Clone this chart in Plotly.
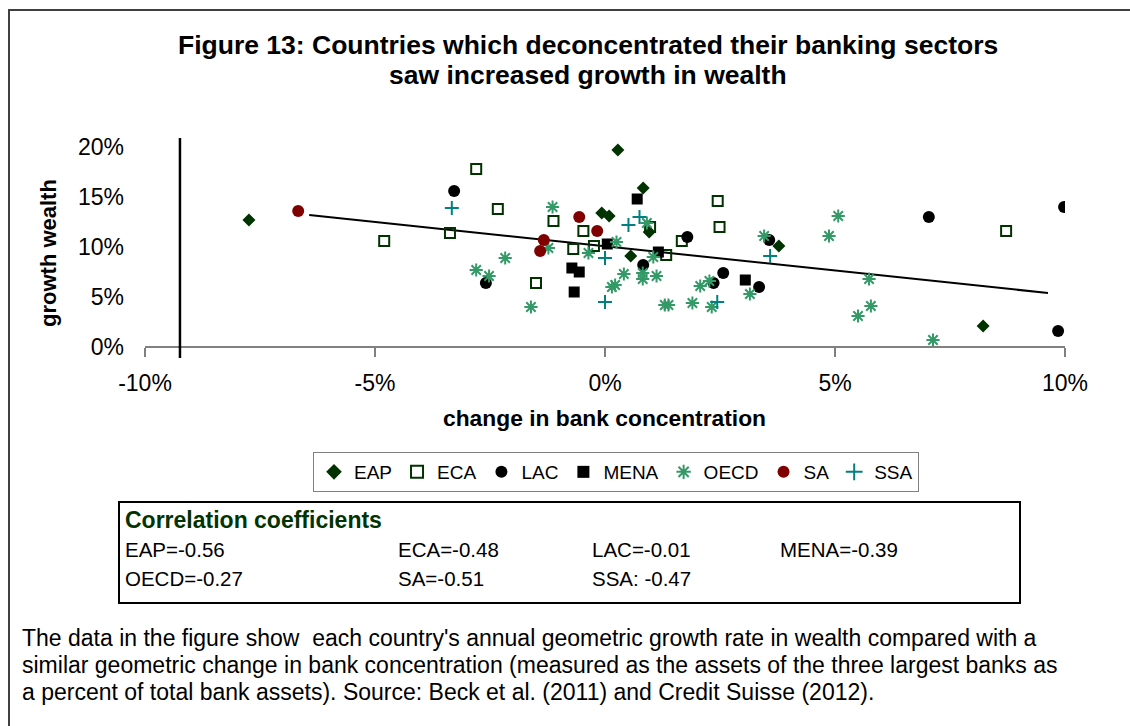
import plotly.graph_objects as go

# ---------------- data (percent units) ----------------
eap_x = [-7.74, 0.28, 0.83, -0.07, 0.09, 0.56, 0.96, 3.78, 8.22]
eap_y = [12.7, 19.7, 15.9, 13.4, 13.1, 9.1, 11.5, 10.1, 2.1]

eca_x = [-4.80, -2.80, -2.33, -3.37, -1.12, -0.47, -0.69, -0.24, -1.50, 0.98, 1.67, 1.33, 2.45, 2.49, 8.72]
eca_y = [10.6, 17.8, 13.8, 11.4, 12.6, 11.6, 9.8, 10.1, 6.4, 12.0, 10.6, 9.2, 14.6, 12.0, 11.6]

lac_x = [-3.28, -2.59, 1.79, 0.83, 2.57, 2.36, 3.35, 3.57, 7.04, 9.98, 9.85]
lac_y = [15.6, 6.4, 11.0, 8.2, 7.4, 6.4, 6.0, 10.7, 13.0, 14.0, 1.6]

mena_x = [-0.72, -0.56, -0.67, 0.05, 0.70, 1.16, 3.05]
mena_y = [7.9, 7.5, 5.5, 10.3, 14.8, 9.5, 6.7]

oecd_x = [-2.80, -2.52, -2.17, -1.61, -1.14, -1.23, -0.36, 0.25, 0.41, 0.15, 0.22, 0.91, 1.05, 0.82, 0.82,
          1.12, 1.30, 1.38, 1.90, 2.07, 2.27, 2.32, 3.15, 3.46, 4.87, 5.07, 5.74, 5.78, 5.50, 7.13]
oecd_y = [7.7, 7.1, 8.9, 4.0, 14.0, 9.9, 9.4, 10.5, 7.3, 6.0, 6.2, 12.4, 9.0, 7.4, 6.8,
          7.1, 4.2, 4.2, 4.4, 6.1, 6.6, 4.0, 5.3, 11.1, 11.1, 13.1, 6.8, 4.1, 3.1, 0.7]

sa_x = [-6.67, -0.56, -0.17, -1.33, -1.41]
sa_y = [13.6, 13.0, 11.6, 10.7, 9.6]

ssa_x = [-3.33, 0.00, 0.00, 0.51, 0.75, 3.59, 2.44]
ssa_y = [13.9, 8.9, 4.5, 12.2, 13.0, 9.1, 4.5]

trend_x = [-6.43, 9.63]
trend_y = [13.2, 5.4]

x_ticks = [-10, -5, 0, 5, 10]
x_tick_text = ["-10%", "-5%", "0%", "5%", "10%"]
y_ticks = [0, 5, 10, 15, 20]
y_tick_text = ["0%", "5%", "10%", "15%", "20%"]

corr_rows = [
    ["EAP=-0.56", "ECA=-0.48", "LAC=-0.01", "MENA=-0.39"],
    ["OECD=-0.27", "SA=-0.51", "SSA: -0.47"],
]

title_lines = ["Figure 13: Countries which deconcentrated their banking sectors",
               "saw increased growth in wealth"]
foot_lines = [
    "The data in the figure show  each country's annual geometric growth rate in wealth compared with a",
    "similar geometric change in bank concentration (measured as the assets of the three largest banks as",
    "a percent of total bank assets). Source: Beck et al. (2011) and Credit Suisse (2012).",
]

# ---------------- layout geometry (pixels) ----------------
W, H = 1130, 726
PL, PR, PT, PB = 145, 1065, 138, 358          # plot area in pixels
X_RANGE = [-10, 10]
Y_RANGE = [-1.1, 20.9]
Y_AXIS_CROSS = -9.24


def px(xp):
    return (xp - PL) / (PR - PL)


def py(yp):
    return (PB - yp) / (PB - PT)


FONT = "Liberation Sans, Arial, sans-serif"
DKGREEN = "#003300"
OECD_C = "#339966"
SA_C = "#800000"
SSA_C = "#008080"

fig = go.Figure()

series = [
    ("EAP", eap_x, eap_y, dict(symbol="diamond", size=10, color=DKGREEN)),
    ("ECA", eca_x, eca_y, dict(symbol="square-open", size=10, color=DKGREEN, line=dict(width=2, color=DKGREEN))),
    ("LAC", lac_x, lac_y, dict(symbol="circle", size=12, color="black")),
    ("MENA", mena_x, mena_y, dict(symbol="square", size=11, color="black")),
    ("OECD", oecd_x, oecd_y, dict(symbol="asterisk-open", size=11, color=OECD_C, line=dict(width=2, color=OECD_C))),
    ("SA", sa_x, sa_y, dict(symbol="circle", size=12, color=SA_C)),
    ("SSA", ssa_x, ssa_y, dict(symbol="cross-thin-open", size=10, color=SSA_C, line=dict(width=2, color=SSA_C))),
]

fig.add_trace(go.Scatter(x=trend_x, y=trend_y, mode="lines", line=dict(color="black", width=2),
                         showlegend=False, hoverinfo="skip"))

for name, xs, ys, mk in series:
    fig.add_trace(go.Scatter(x=xs, y=ys, mode="markers", name=name, marker=mk))


def ann(text, x, y, size, anchor="center", color="black", **kw):
    d = dict(text=text, x=px(x), y=py(y), xref="paper", yref="paper", showarrow=False,
             xanchor=anchor, yanchor="middle", font=dict(family=FONT, size=size, color=color))
    d.update(kw)
    return d


annotations = [
    ann("<b>%s</b>" % title_lines[0], 588, 45, 26.5),
    ann("<b>%s</b>" % title_lines[1], 588, 75, 26.5),
    ann("<b>change in bank concentration</b>", 604, 418, 22.8),
    ann("<b>growth wealth</b>", 48, 253, 22, textangle=-90),
    ann("<b>Correlation coefficients</b>", 123, 520, 23, anchor="left", color=DKGREEN),
]
col_x = [123, 396, 590, 778]
row_y = [549, 578]
for r, row in enumerate(corr_rows):
    for c, txt in enumerate(row):
        annotations.append(ann(txt, col_x[c], row_y[r], 20.5, anchor="left"))

for i, line in enumerate(foot_lines):
    annotations.append(ann(line, 20, 638 + 27 * i, 23, anchor="left"))

shapes = [
    # vertical y-axis line
    dict(type="line", xref="x", yref="y", x0=Y_AXIS_CROSS, x1=Y_AXIS_CROSS, y0=Y_RANGE[0], y1=Y_RANGE[1],
         line=dict(color="black", width=2.5)),
    # outer frame (right/bottom edges lie outside the canvas)
    dict(type="rect", xref="paper", yref="paper", x0=px(9), x1=px(1150), y0=py(10), y1=py(760),
         line=dict(color="#404040", width=2), layer="below"),
    # correlation box
    dict(type="rect", xref="paper", yref="paper", x0=px(119), x1=px(1020), y0=py(502), y1=py(603),
         line=dict(color="black", width=2)),
]

fig.update_layout(
    width=W, height=H,
    margin=dict(l=PL, r=W - PR, t=PT, b=H - PB, autoexpand=False),
    paper_bgcolor="white", plot_bgcolor="white",
    font=dict(family=FONT, color="black"),
    showlegend=True,
    legend=dict(orientation="h", x=px(616), xanchor="center", y=py(452), yanchor="top",
                bordercolor="#808080", borderwidth=1, bgcolor="white",
                font=dict(family=FONT, size=19, color="black"),
                itemsizing="constant", tracegroupgap=0),
    annotations=annotations,
    shapes=shapes,
    xaxis=dict(range=X_RANGE, tickvals=x_ticks, ticktext=x_tick_text, showgrid=False, zeroline=False,
               showline=True, linecolor="#808080", linewidth=1.5, ticks="outside", ticklen=9,
               tickcolor="#808080", tickwidth=1.5, anchor="free",
               position=(0 - Y_RANGE[0]) / (Y_RANGE[1] - Y_RANGE[0]),
               tickfont=dict(family=FONT, size=23, color="black"), ticklabelstandoff=7),
    yaxis=dict(range=Y_RANGE, tickvals=y_ticks, ticktext=y_tick_text, showgrid=False, zeroline=False,
               showline=False, ticks="", tickfont=dict(family=FONT, size=23, color="black"),
               ticklabelstandoff=20),
)

fig.write_html("out.html", config={"displayModeBar": False},
               post_script="document.body.style.margin='0px';document.body.style.overflow='hidden';")
